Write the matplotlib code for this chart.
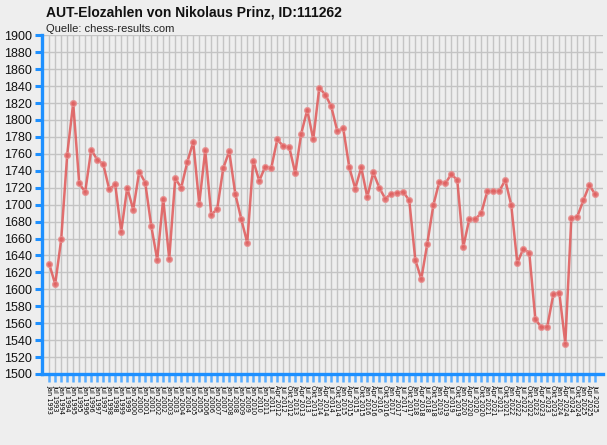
import matplotlib
matplotlib.use("Agg")
import matplotlib.pyplot as plt

title = "AUT-Elozahlen von Nikolaus Prinz, ID:111262"
subtitle = "Quelle: chess-results.com"

# Rating list labels (estimated: semiannual until 2011, then quarterly)
months_q = ["Jan", "Apr", "Jul", "Okt"]
labels = []
for y in range(1993, 2012):
    labels.append(f"Jan {y}")
    labels.append(f"Jul {y}")
for y in range(2012, 2026):
    for m in months_q:
        if y == 2012 and m == "Jan":
            continue
        if y == 2025 and m == "Okt":
            continue
        labels.append(f"{m} {y}")

elo = [1630, 1606, 1659, 1759, 1820, 1725, 1715, 1765, 1753, 1748,
       1718, 1724, 1668, 1720, 1694, 1739, 1726, 1675, 1635, 1707,
       1636, 1731, 1720, 1750, 1774, 1701, 1764, 1688, 1695, 1743,
       1763, 1713, 1683, 1655, 1752, 1728, 1745, 1743, 1777, 1769,
       1768, 1737, 1784, 1812, 1777, 1838, 1830, 1816, 1787, 1790,
       1744, 1719, 1744, 1709, 1738, 1720, 1707, 1713, 1714, 1715,
       1705, 1635, 1612, 1654, 1699, 1727, 1725, 1736, 1729, 1650,
       1683, 1683, 1690, 1716, 1716, 1716, 1729, 1699, 1631, 1648,
       1643, 1565, 1555, 1556, 1594, 1596, 1536, 1684, 1686, 1705,
       1723, 1712]

labels = labels[:len(elo)]
yticks = list(range(1500, 1901, 20))

bg = "#EEEEEE"
blue = "#1E90FF"
fig = plt.figure(figsize=(6.07, 4.45), dpi=100, facecolor=bg)
ax = fig.add_axes([42 / 607, 71 / 445, (603 - 42) / 607, (374 - 35.3) / 445])
ax.set_facecolor(bg)

x = list(range(len(elo)))
ax.plot(x, elo, color="#E05858", lw=1.8, alpha=0.85, zorder=3,
        marker="o", ms=4.2, mfc="#E06262", mec="#E89090", mew=0.9)

ax.set_xlim(-1.2, len(elo) - 1 + 1.28)
ax.set_ylim(1500, 1900)
ax.set_yticks(yticks)
ax.set_yticklabels([str(v) for v in yticks], fontsize=9, family="Liberation Sans")
ax.set_xticks(x)
ax.set_xticklabels(labels, rotation=-90, fontsize=4.8, family="DejaVu Sans",
                   ha="center", va="top")

ax.grid(True, color="#C4C4C4", lw=1.0, zorder=0)
ax.set_axisbelow(True)

for s in ["top", "right"]:
    ax.spines[s].set_visible(False)
for s in ["left", "bottom"]:
    ax.spines[s].set_color(blue)
    ax.spines[s].set_linewidth(2.4)

ax.tick_params(axis="y", colors=blue, length=5, width=2.2, pad=2,
               labelcolor="#111111")
ax.tick_params(axis="x", colors="#5AAEFF", length=6, width=1.8, pad=2,
               labelcolor="#000000")

fig.text(46 / 607, 1 - 16.7 / 445, title, fontsize=10, fontweight="bold",
         family="Liberation Sans", ha="left", va="baseline", color="#111111")
fig.text(46 / 607, 1 - 31.5 / 445, subtitle, fontsize=8,
         family="Liberation Sans", ha="left", va="baseline", color="#222222")

fig.savefig("out.png", dpi=100, facecolor=bg)
